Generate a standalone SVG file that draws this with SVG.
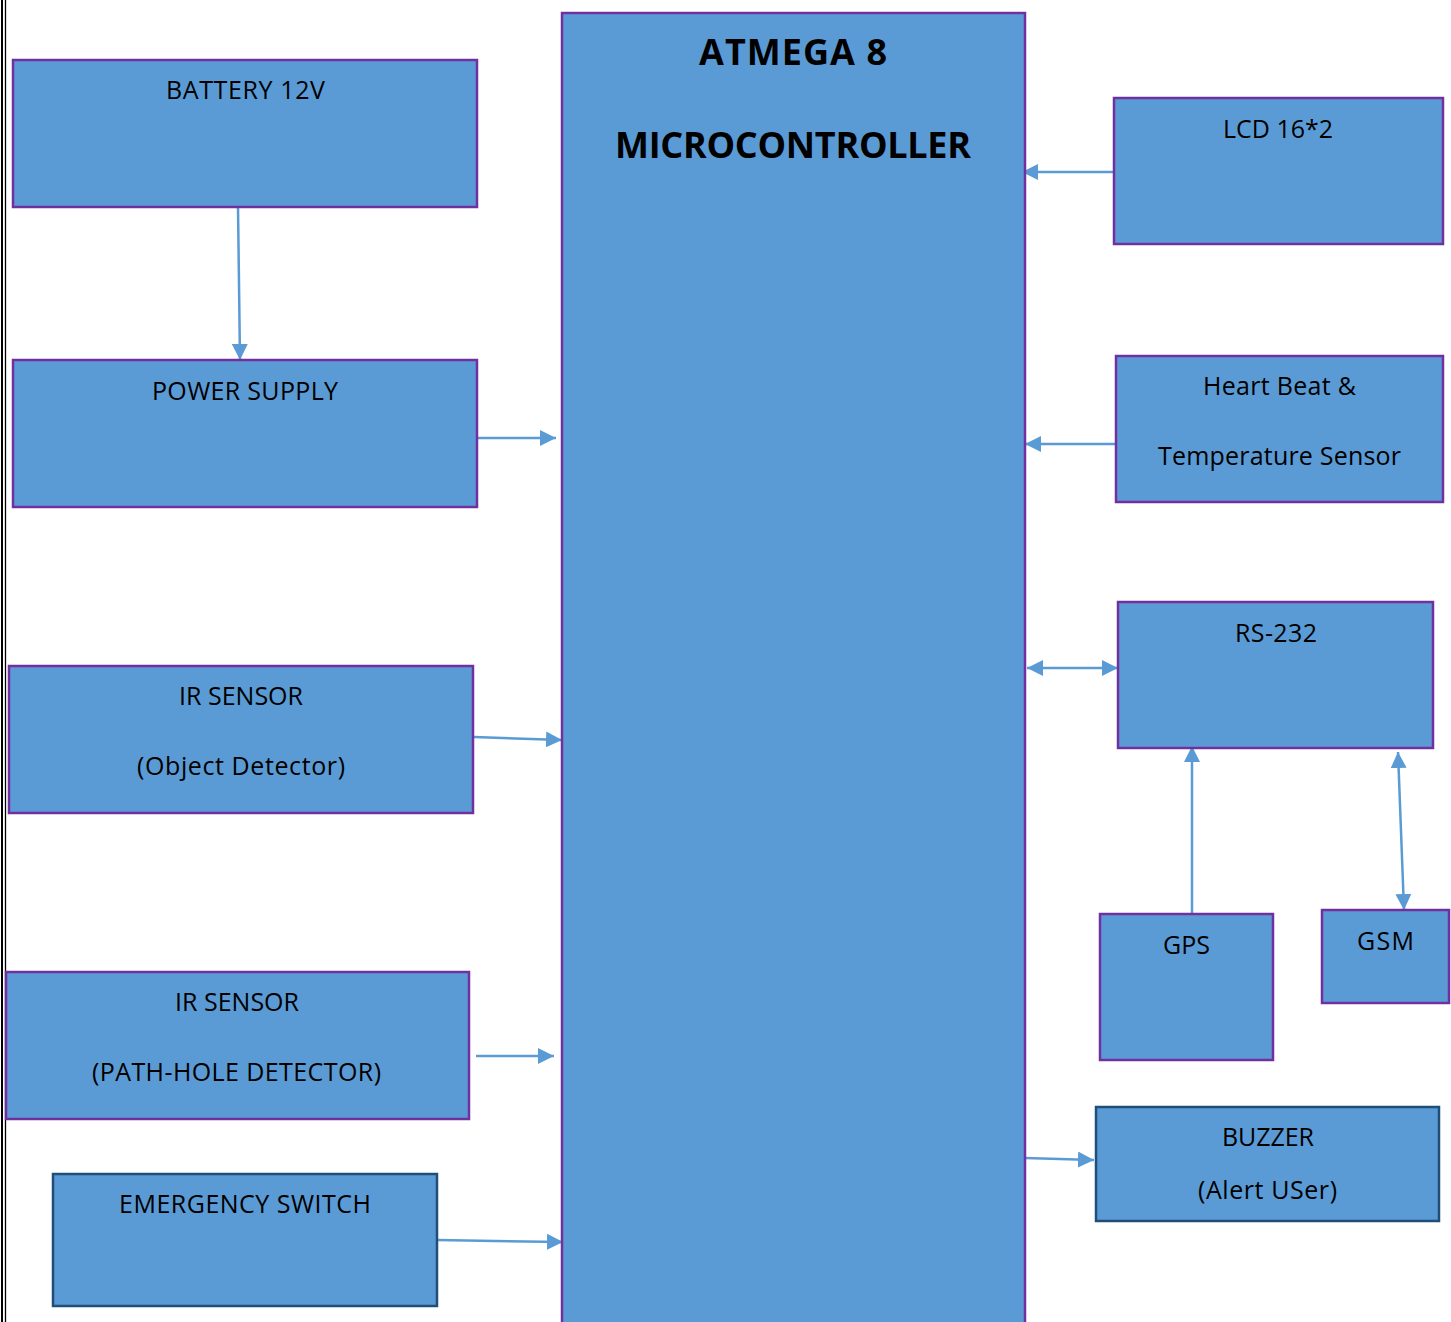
<svg xmlns="http://www.w3.org/2000/svg" width="1451" height="1322" viewBox="0 0 1451 1322">
<style>
.box{fill:#5B9BD5;stroke:#7030A0;stroke-width:2.5}
.box2{fill:#5B9BD5;stroke:#1F4E79;stroke-width:2.5}
.t{font-family:"Open Sans","Noto Sans",sans-serif;font-size:25px;fill:#000;text-anchor:middle}
.b{font-family:"Open Sans","Noto Sans",sans-serif;font-size:36px;font-weight:bold;fill:#000;text-anchor:middle}
.c{stroke:#5B9BD5;stroke-width:2.5;fill:none}
</style>
<defs>
<marker id="ah" markerUnits="userSpaceOnUse" markerWidth="16" markerHeight="16" refX="16" refY="8" orient="auto">
<path d="M0,0 L16,8 L0,16 z" fill="#5B9BD5"/>
</marker>
<marker id="as" markerUnits="userSpaceOnUse" markerWidth="16" markerHeight="16" refX="0" refY="8" orient="auto">
<path d="M16,0 L0,8 L16,16 z" fill="#5B9BD5"/>
</marker>
</defs>
<rect width="1451" height="1322" fill="#fff"/>
<line x1="2" y1="0" x2="2" y2="1322" stroke="#000" stroke-width="2"/>
<line x1="5.5" y1="0" x2="5.5" y2="1322" stroke="#000" stroke-width="1.3"/>

<g id="connectors">
<line class="c" x1="238" y1="207" x2="240" y2="360" marker-end="url(#ah)"/>
<line class="c" x1="478" y1="438" x2="556" y2="438" marker-end="url(#ah)"/>
<line class="c" x1="474" y1="737" x2="562" y2="740" marker-end="url(#ah)"/>
<line class="c" x1="476" y1="1056" x2="554" y2="1056" marker-end="url(#ah)"/>
<line class="c" x1="437" y1="1240" x2="563" y2="1242" marker-end="url(#ah)"/>
<line class="c" x1="1114" y1="172" x2="1022" y2="172" marker-end="url(#ah)"/>
<line class="c" x1="1116" y1="444" x2="1025" y2="444" marker-end="url(#ah)"/>
<line class="c" x1="1027" y1="668" x2="1118" y2="668" marker-start="url(#as)" marker-end="url(#ah)"/>
<line class="c" x1="1192" y1="914" x2="1192" y2="746" marker-end="url(#ah)"/>
<line class="c" x1="1398" y1="752" x2="1404" y2="910" marker-start="url(#as)" marker-end="url(#ah)"/>
<line class="c" x1="1025" y1="1158" x2="1094" y2="1160" marker-end="url(#ah)"/>
</g>

<g id="battery">
<rect class="box" x="13" y="60" width="464" height="147"/>
<text class="t" x="245.5" y="99" textLength="159">BATTERY 12V</text>
</g>
<g id="power-supply">
<rect class="box" x="13" y="360" width="464" height="147"/>
<text class="t" x="245" y="400" textLength="186">POWER SUPPLY</text>
</g>
<g id="ir-sensor-object">
<rect class="box" x="9" y="666" width="464" height="147"/>
<text class="t" x="241" y="705" textLength="124">IR SENSOR</text>
<text class="t" x="241" y="775" textLength="208">(Object Detector)</text>
</g>
<g id="ir-sensor-pathhole">
<rect class="box" x="6" y="972" width="463" height="147"/>
<text class="t" x="237" y="1011" textLength="124">IR SENSOR</text>
<text class="t" x="236.5" y="1081" textLength="289">(PATH-HOLE DETECTOR)</text>
</g>
<g id="emergency-switch">
<rect class="box2" x="53" y="1174" width="384" height="132"/>
<text class="t" x="245" y="1213" textLength="252">EMERGENCY SWITCH</text>
</g>
<g id="microcontroller">
<rect class="box" x="562" y="13" width="463" height="1320"/>
<text class="b" x="793" y="65" textLength="188">ATMEGA 8</text>
<text class="b" x="793" y="158" textLength="356">MICROCONTROLLER</text>
</g>
<g id="lcd">
<rect class="box" x="1114" y="98" width="329" height="146"/>
<text class="t" x="1278" y="138" textLength="110">LCD 16*2</text>
</g>
<g id="heart-beat">
<rect class="box" x="1116" y="356" width="327" height="146"/>
<text class="t" x="1279.5" y="395" textLength="153">Heart Beat &amp;</text>
<text class="t" x="1279.5" y="465" textLength="243">Temperature Sensor</text>
</g>
<g id="rs232">
<rect class="box" x="1118" y="602" width="315" height="146"/>
<text class="t" x="1276" y="642" textLength="82">RS-232</text>
</g>
<g id="gps">
<rect class="box" x="1100" y="914" width="173" height="146"/>
<text class="t" x="1186.5" y="954" textLength="47">GPS</text>
</g>
<g id="gsm">
<rect class="box" x="1322" y="910" width="127" height="93"/>
<text class="t" x="1385.5" y="950" textLength="57">GSM</text>
</g>
<g id="buzzer">
<rect class="box2" x="1096" y="1107" width="343" height="114"/>
<text class="t" x="1268" y="1146" textLength="92">BUZZER</text>
<text class="t" x="1267.5" y="1199" textLength="139">(Alert USer)</text>
</g>
</svg>
